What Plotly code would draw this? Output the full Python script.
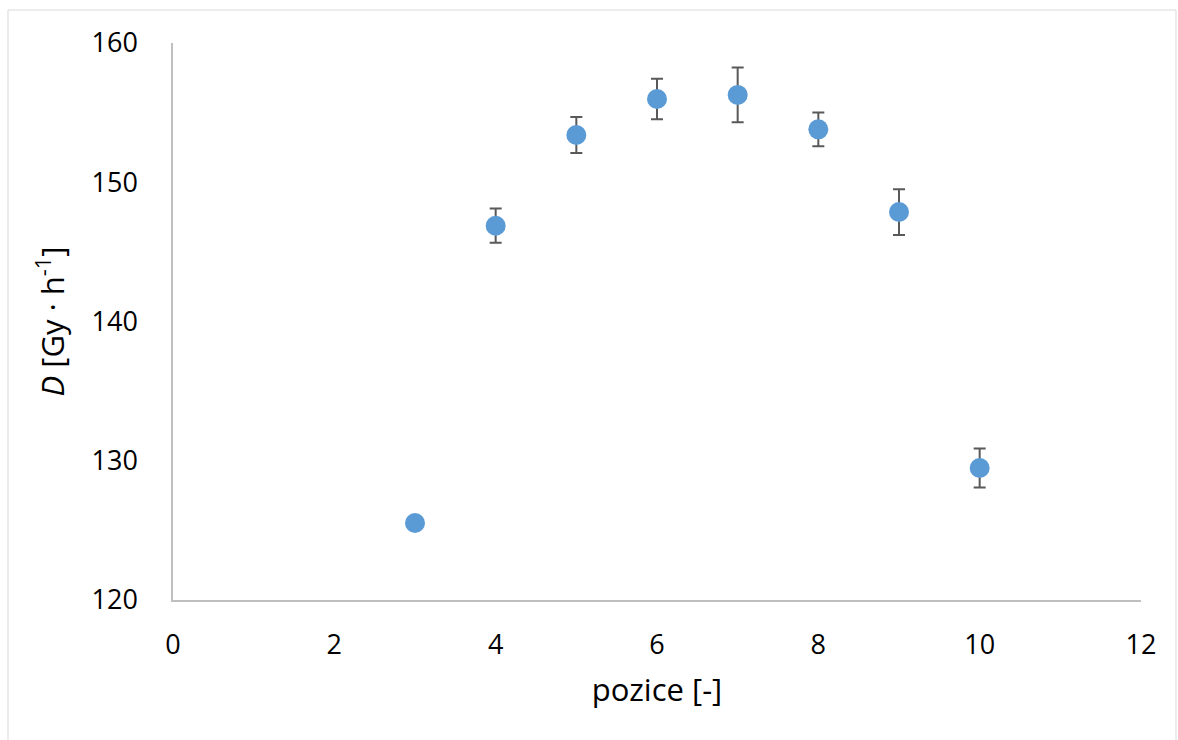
import plotly.graph_objects as go

pozice = [3, 4, 5, 6, 7, 8, 9, 10]
dose = [125.53, 146.88, 153.39, 155.98, 156.27, 153.80, 147.86, 129.48]
err = [0.0, 1.23, 1.29, 1.46, 1.97, 1.21, 1.64, 1.40]

fig = go.Figure()
fig.add_trace(go.Scatter(
    x=pozice, y=dose, mode="markers",
    marker=dict(size=20, color="#5B9BD5"),
    error_y=dict(type="data", array=err, visible=True, color="#595959",
                 thickness=2, width=6),
    showlegend=False,
))

font = dict(family="Open Sans, sans-serif", size=27, color="#000000")
fig.update_layout(
    width=1178, height=740,
    margin=dict(l=173, r=37, t=43, b=140),
    paper_bgcolor="white", plot_bgcolor="white",
    font=font,
    xaxis=dict(range=[0, 12], tickvals=[0, 2, 4, 6, 8, 10, 12], showgrid=False,
               zeroline=False, showline=True, linecolor="#BFBFBF", linewidth=1.5,
               ticks="", ticklabelstandoff=20,
               title=dict(text="pozice [-]", standoff=18, font=dict(size=31))),
    yaxis=dict(range=[120, 160], tickvals=[120, 130, 140, 150, 160], showgrid=False,
               zeroline=False, showline=True, linecolor="#BFBFBF", linewidth=1.5,
               ticks="", ticklabelstandoff=28,
               title=dict(text="<i>D</i> [Gy · h<sup>-1</sup>]", standoff=18,
                          font=dict(size=31))),
    shapes=[dict(type="rect", xref="paper", yref="paper",
                 x0=(8 - 173) / 968, x1=(1176 - 173) / 968,
                 y0=(600 - 760) / 557, y1=(600 - 10) / 557,
                 line=dict(color="#D9D9D9", width=1), layer="below")],
)

fig.write_html("out.html")
